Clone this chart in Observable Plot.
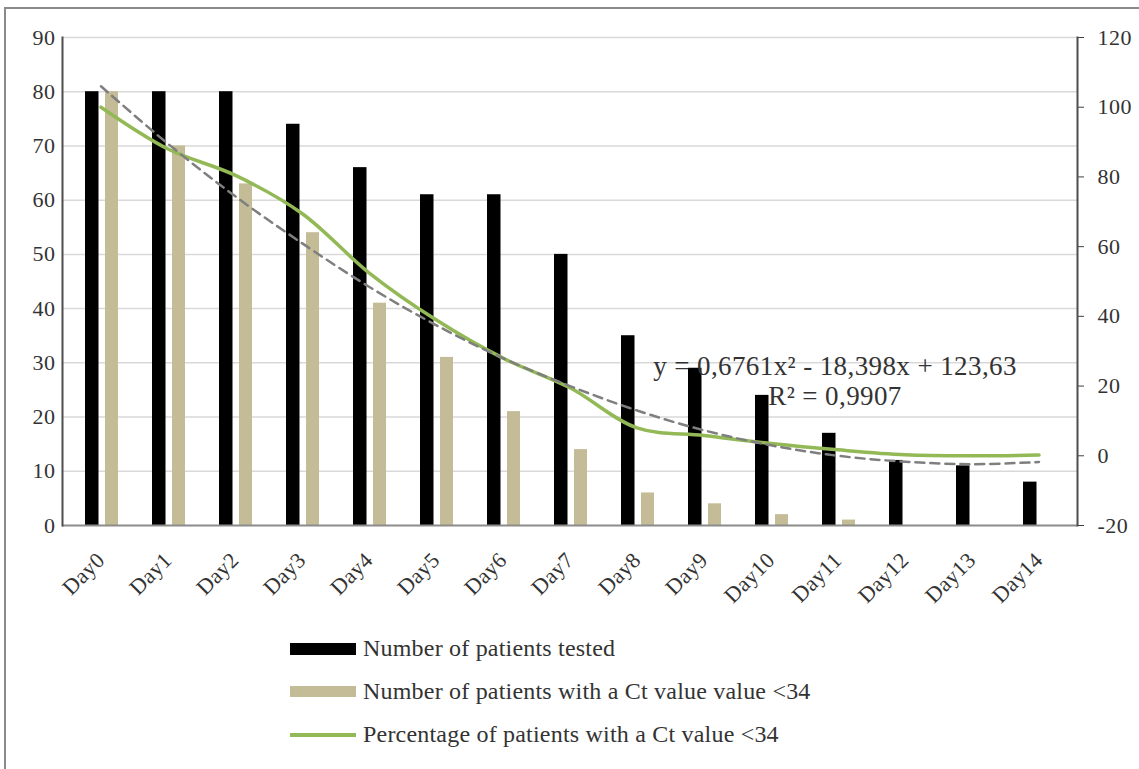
<!DOCTYPE html>
<html>
<head>
<meta charset="utf-8">
<script src="https://cdn.jsdelivr.net/npm/d3@7"></script>
<script src="https://cdn.jsdelivr.net/npm/@observablehq/plot@0.6"></script>
<style>
  html, body { margin: 0; padding: 0; background: #fff; }
  #wrap { position: relative; width: 1139px; height: 769px; overflow: hidden; background: #fff; }
  #chart { position: absolute; left: 0; top: 0; }
  .frame-top { position: absolute; left: 4px; top: 7px; width: 1135px; height: 0; border-top: 2px solid #8a8a8a; }
  .frame-left { position: absolute; left: 4px; top: 7px; width: 0; height: 762px; border-left: 2px solid #8a8a8a; }
  #legend { position: absolute; left: 290px; top: 627px; font-family: 'Liberation Serif', serif; font-size: 24px; letter-spacing: 0.2px; color: #333; }
  .row { display: flex; align-items: center; height: 43px; }
  .sw { width: 66px; margin-right: 7px; }
  #chart svg g[aria-label="y-axis tick label"] text { letter-spacing: 0.5px; }
  #chart svg g[aria-label="x-axis tick label"] text { letter-spacing: 0.4px; }
  #chart svg g[aria-label="text"] text { letter-spacing: 0.4px; }
</style>
</head>
<body>
<div id="wrap">
  <div id="chart"></div>
  <div class="frame-top"></div>
  <div class="frame-left"></div>
  <div id="legend"></div>
</div>
<script>
// ---- data ----
const days = ["Day0","Day1","Day2","Day3","Day4","Day5","Day6","Day7","Day8","Day9","Day10","Day11","Day12","Day13","Day14"];
const patientsTested = [80, 80, 80, 74, 66, 61, 61, 50, 35, 29, 24, 17, 12, 11, 8];
const patientsCtBelow34 = [80, 70, 63, 54, 41, 31, 21, 14, 6, 4, 2, 1, 0, 0, 0];
const percentCtBelow34 = [100, 88, 80.5, 69.5, 52.5, 39, 28, 19.5, 8, 5.8, 3.5, 1.7, 0.3, 0, 0.2];
const trendPoly = [106, 89.5, 74.5, 61, 48.5, 37.5, 28, 20, 13, 7.3, 3, 0, -1.7, -2.4, -1.8];
const leftTicks = [0, 10, 20, 30, 40, 50, 60, 70, 80, 90];
const rightTicks = [-20, 0, 20, 40, 60, 80, 100, 120];
const equationText = "y = 0,6761x² - 18,398x + 123,63";
const r2Text = "R² = 0,9907";
const seriesNames = ["Number of patients tested", "Number of patients with a Ct value value <34", "Percentage of patients with a Ct value <34"];

// ---- styling ----
const colTested = "#000000";
const colCt = "#c4bc96";
const colPct = "#93b956";
const colTrend = "#7f7f7f";

// right axis (-20..120) mapped onto left axis (0..90)
const rMin = -20, rMax = 120, lMax = 90;
const toLeft = v => (v - rMin) * lMax / (rMax - rMin);
const fromLeft = v => Math.round(v * (rMax - rMin) / lMax + rMin);

const rows = days.map((d, i) => ({
  day: d,
  tested: patientsTested[i],
  ct: patientsCtBelow34[i],
  pct: percentCtBelow34[i],
  trend: trendPoly[i]
}));

const chart = Plot.plot({
  width: 1139,
  height: 615,
  marginTop: 37,
  marginBottom: 90,
  marginLeft: 62,
  marginRight: 62,
  style: { fontFamily: "'Liberation Serif', serif", fontSize: "22px", color: "#333", background: "transparent" },
  x: { domain: days, padding: 0, label: null },
  y: { domain: [0, lMax], label: null },
  marks: [
    Plot.gridY(leftTicks.filter(t => t > 0), { stroke: "#d9d9d9", strokeOpacity: 1, strokeWidth: 1.5 }),
    Plot.axisY(leftTicks, { anchor: "left", tickSize: 0, tickPadding: 7, label: null, fontSize: 22 }),
    Plot.axisY(rightTicks.map(toLeft), { anchor: "right", tickSize: 6, tickPadding: 14, tickFormat: fromLeft, label: null, stroke: "#404040", fontSize: 22 }),
    Plot.axisX({ tickRotate: -45, tickSize: 0, tickPadding: 31, label: null, fontSize: 22 }),
    Plot.barY(rows, { x: "day", y: "tested", fill: colTested, insetLeft: 18, insetRight: 35.5 }),
    Plot.barY(rows, { x: "day", y: "ct", fill: colCt, insetLeft: 38, insetRight: 16 }),
    Plot.ruleY([0], { stroke: "#8c8c8c", strokeWidth: 2 }),
    Plot.frame({ anchor: "left", stroke: "#4d4d4d", strokeWidth: 2 }),
    Plot.frame({ anchor: "right", stroke: "#4d4d4d", strokeWidth: 2 }),
    Plot.line(rows, { x: "day", y: d => toLeft(d.pct), stroke: colPct, strokeWidth: 3.5, curve: "catmull-rom" }),
    Plot.line(rows, { x: "day", y: d => toLeft(d.trend), stroke: colTrend, strokeWidth: 2.5, strokeDasharray: "9,6", curve: "catmull-rom" }),
    Plot.text([equationText], { x: () => "Day11", y: () => 29.4, text: d => d, fontSize: 27, fill: "#333", dx: -3 }),
    Plot.text([r2Text], { x: () => "Day11", y: () => 23.9, text: d => d, fontSize: 27, fill: "#333", dx: -3 })
  ]
});
document.getElementById("chart").appendChild(chart);

// legend
const legend = document.getElementById("legend");
const swatches = [
  `<div class="sw" style="height:12px;background:${colTested}"></div>`,
  `<div class="sw" style="height:11px;background:${colCt}"></div>`,
  `<div class="sw" style="height:4px;background:${colPct}"></div>`
];
seriesNames.forEach((name, i) => {
  const r = document.createElement("div");
  r.className = "row";
  r.innerHTML = swatches[i] + `<span>${name.replace("<", "&lt;")}</span>`;
  legend.appendChild(r);
});
</script>
</body>
</html>
